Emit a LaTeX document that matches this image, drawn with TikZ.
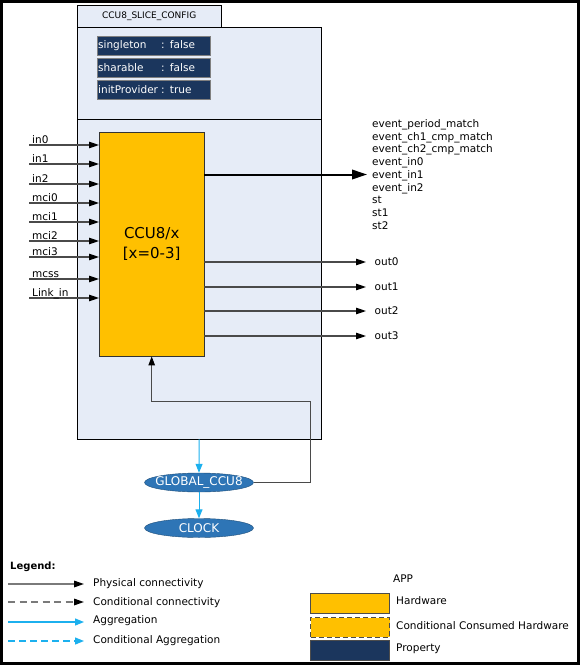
\documentclass[tikz,border=0pt]{standalone}
\usepackage{fontspec}
\setmainfont{DejaVu Sans}
\usetikzlibrary{arrows.meta,shapes.geometric}
\definecolor{boxbg}{HTML}{E6ECF7}
\definecolor{hwfill}{HTML}{FFC000}
\definecolor{propfill}{HTML}{1B365D}
\definecolor{ellfill}{HTML}{2E75B6}
\definecolor{ellline}{HTML}{1F4E79}
\definecolor{aggr}{HTML}{1CB0EE}
\definecolor{conn}{HTML}{4A4A4A}
\definecolor{legline}{HTML}{7A7A7A}
\begin{document}
\begin{tikzpicture}[x=1pt,y=-1pt,
  lbl/.style={font=\fontsize{10.5}{12}\selectfont, inner sep=0pt},
  phys/.style={draw=conn, line width=1.1pt, -{Triangle[length=10pt,width=6.5pt,color=black]}},
  agg/.style={draw=aggr, line width=1pt, -{Triangle[length=9pt,width=7pt]}},
  prop/.style={draw=gray, fill=propfill, text=white, minimum height=19pt, anchor=north west,
    inner xsep=1pt, inner ysep=0pt, text width=111pt, align=left, font=\fontsize{10.5}{12}\selectfont},
  ell/.style={ellipse, draw=ellline, fill=ellfill, text=white, minimum width=109pt, minimum height=19pt,
    inner sep=0pt, font=\fontsize{12}{12}\selectfont},
  legbox/.style={draw=black!70, line width=1pt, fill=hwfill, minimum width=79pt, minimum height=19.5pt, anchor=north west, inner sep=0pt}
]
\useasboundingbox (0,0) rectangle (580,665);
\draw[line width=3pt] (1.5,1.5) rectangle (578.5,663.5);

% main configuration box
\node[draw, fill=boxbg, minimum width=244pt, minimum height=412pt, anchor=north west, inner sep=0pt] (main) at (77,27) {};
\node[draw, fill=boxbg, minimum width=144pt, minimum height=22pt, anchor=south west, inner sep=0pt,
  font=\fontsize{9}{10}\selectfont] (tab) at (main.north west) {CCU8\_SLICE\_CONFIG};
\draw (main.west |- 0,119) -- (main.east |- 0,119);

% properties
\node[prop] (p1) at (97,36) {\makebox[63pt][l]{singleton}: false};
\node[prop] (p2) at (97,57.5) {\makebox[63pt][l]{sharable}: false};
\node[prop] (p3) at (97,80) {\makebox[63pt][l]{initProvider}: true};

% hardware block
\node[draw=black!80, fill=hwfill, minimum width=105pt, minimum height=224pt, anchor=north west, inner sep=0pt,
  align=center, font=\fontsize{15}{20}\selectfont] (ccu) at (99,132) {CCU8/x\\{}[x=0-3]};

% inputs
\foreach \n/\y [count=\i] in {in0/145, in1/164, in2/184, mci0/203, mci1/222, mci2/241, mci3/257, mcss/279, Link\_in/298} {
  \coordinate (inS\i) at (29,\y);
  \draw[phys] (inS\i) -- (ccu.west |- inS\i);
  \node[lbl, anchor=base west] (inL\i) at (32,\y-1.2) {\n};
}

% events
\coordinate (evE) at (367,174.5);
\draw[draw=black, line width=2pt, -{Triangle[length=15pt,width=9.5pt]}] (ccu.east |- evE) -- (evE);
\foreach \n [count=\i] in {event\_period\_match, event\_ch1\_cmp\_match, event\_ch2\_cmp\_match, event\_in0, event\_in1, event\_in2, st, st1, st2} {
  \node[lbl, anchor=base west] (ev\i) at (372,114.5+12.75*\i) {\n};
}

% outputs
\foreach \n/\y [count=\i] in {out0/262, out1/287, out2/311, out3/336} {
  \coordinate (outE\i) at (366,\y);
  \draw[phys] (ccu.east |- outE\i) -- (outE\i);
  \node[lbl, anchor=west] (outL\i) at (374.5,\y) {\n};
}

% global nodes
\node[ell] (glob) at (199,482.5) {\makebox[60pt]{GLOBAL\_CCU8}};
\node[ell] (clock) at (199,528) {\makebox[40pt]{CLOCK}};
\draw[agg] (main.south) -- (glob.north);
\draw[agg] (glob.south) -- (clock.north);
\coordinate (fb) at (310,401);
\draw[draw=conn, line width=1pt, -{Triangle[length=9pt,width=6.5pt,color=black]}] (glob.east) -| (fb) -| (ccu.south);

% legend
\node[anchor=base west, inner sep=0pt, font=\bfseries\fontsize{10}{12}\selectfont] (legT) at (10,569) {Legend:};
\coordinate (l1a) at (8,584); \coordinate (l1b) at (84,584);
\coordinate (l2a) at (8,602); \coordinate (l2b) at (84,602);
\coordinate (l3a) at (8,622); \coordinate (l3b) at (84,622);
\coordinate (l4a) at (8,641); \coordinate (l4b) at (84,641);
\draw[phys, draw=legline, line width=1.6pt] (l1a) -- (l1b);
\draw[phys, draw=legline, line width=1.6pt, dash pattern=on 7pt off 4.5pt] (l2a) -- (l2b);
\draw[agg, line width=1.2pt] (l3a) -- (l3b);
\draw[agg, line width=1.3pt, dash pattern=on 6.5pt off 4.5pt] (l4a) -- (l4b);
\node[lbl, anchor=west] (l1t) at (93,584) {Physical connectivity};
\node[lbl, anchor=west] (l2t) at (93,602.5) {Conditional connectivity};
\node[lbl, anchor=west] (l3t) at (93,621) {Aggregation};
\node[lbl, anchor=west] (l4t) at (93,641) {Conditional Aggregation};

\node[lbl, anchor=west] (app) at (393,579) {APP};
\node[legbox] (lhw) at (310,593) {};
\node[legbox, dash pattern=on 5pt off 3pt] (lchw) at (310,617) {};
\node[legbox, fill=propfill] (lprop) at (310,640) {};
\node[lbl, anchor=west] (lhwt) at (396,600.5) {Hardware};
\node[lbl, anchor=west] (lchwt) at (396,625.5) {Conditional Consumed Hardware};
\node[lbl, anchor=west] (lpropt) at (396,648.5) {Property};
\end{tikzpicture}
\end{document}
